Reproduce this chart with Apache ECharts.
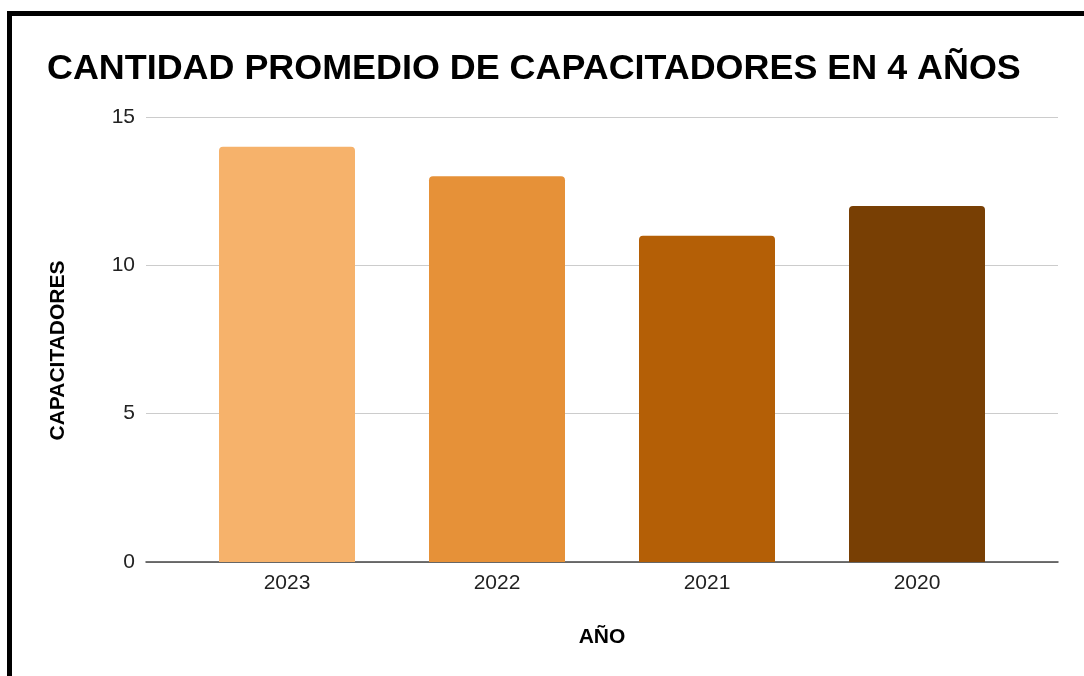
<!DOCTYPE html>
<html>
<head>
<meta charset="utf-8">
<script src="https://cdn.jsdelivr.net/npm/echarts@6/dist/echarts.min.js"></script>
<style>
	html, body { margin: 0; padding: 0; background: #fff; }
	#frame {
		position: absolute; left: 7px; top: 11px; width: 1200px; height: 800px;
		border-top: 5px solid #000; border-left: 5px solid #000;
	}
	#chart { position: absolute; left: 0; top: 0; width: 1084px; height: 676px; }
</style>
</head>
<body>
<div id="frame"></div>
<div id="chart"></div>
<script>
const categories = ['2023', '2022', '2021', '2020']
const values = [14, 13, 11, 12]
const barColors = ['#f6b26b', '#e69138', '#b45f06', '#783f04']
const yTicks = [0, 5, 10, 15]

const chart = echarts.init(document.getElementById('chart'))

const font = 'Liberation Sans, Arial, sans-serif'

chart.setOption({
	animation: false,
	title: {
		text: 'CANTIDAD PROMEDIO DE CAPACITADORES EN 4 AÑOS',
		left: 42,
		top: 46,
		textStyle: { fontFamily: font, fontSize: 35.9, fontWeight: 'bold', color: '#000' }
	},
	grid: [
		// full-width grid for gridlines and baseline
		{ left: 146, right: 26, top: 117, bottom: 114 },
		// inner grid for the bars
		{ left: 182, right: 62, top: 117, bottom: 114 }
	],
	xAxis: [
		{
			gridIndex: 0, type: 'value', min: 0, max: 1,
			axisLine: { show: true, onZero: false, lineStyle: { color: '#444', width: 1.5 } },
			axisTick: { show: false }, axisLabel: { show: false }, splitLine: { show: false }
		},
		{
			gridIndex: 1, type: 'category', data: categories,
			axisLine: { show: false }, axisTick: { show: false },
			axisLabel: { margin: 11, fontFamily: font, fontSize: 21, color: '#222' },
			name: 'AÑO', nameLocation: 'middle', nameGap: 65,
			nameTextStyle: { fontFamily: font, fontSize: 21, fontWeight: 'bold', color: '#000' }
		}
	],
	yAxis: [
		{
			gridIndex: 0, type: 'value', min: 0, max: 15, interval: 5,
			axisLine: { show: false }, axisTick: { show: false },
			axisLabel: {
				margin: 11, fontFamily: font, fontSize: 21, color: '#222',
				formatter: v => yTicks.includes(v) ? String(v) : ''
			},
			splitLine: { lineStyle: { color: '#cccccc', width: 1 } },
			name: 'CAPACITADORES', nameLocation: 'middle', nameGap: 77,
			// push the rotated name a bit lower, like the original
			nameTextStyle: { fontFamily: font, fontSize: 21, fontWeight: 'bold', color: '#000', padding: [0, 22, 0, 0] }
		},
		{
			gridIndex: 1, type: 'value', min: 0, max: 15, interval: 5, show: false
		}
	],
	series: [{
		type: 'bar',
		xAxisIndex: 1,
		yAxisIndex: 1,
		barWidth: 136,
		data: values.map((v, i) => ({
			value: v,
			itemStyle: { color: barColors[i], borderRadius: [4, 4, 0, 0] }
		}))
	}]
})
</script>
</body>
</html>
